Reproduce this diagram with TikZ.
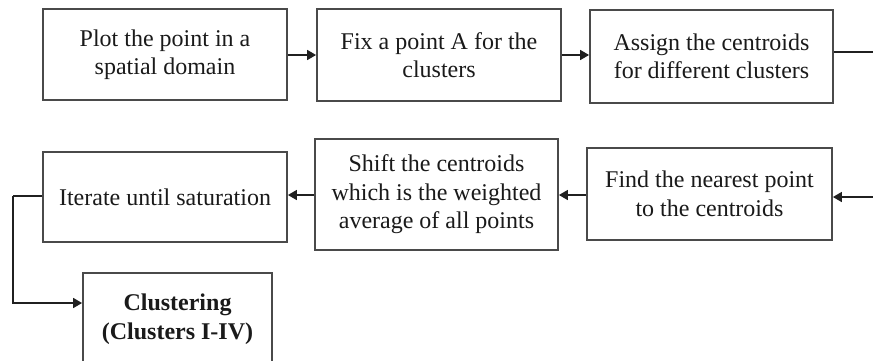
\documentclass[tikz,border=0pt]{standalone}
\usepackage{fontspec}
\setmainfont{Liberation Serif}
\usetikzlibrary{arrows.meta}
\definecolor{edge}{HTML}{4A4A4A}
\definecolor{wire}{HTML}{202020}
\definecolor{ink}{HTML}{1A1A1A}
\begin{document}
\begin{tikzpicture}[x=1pt,y=-1pt,
  stepbox/.style={draw=edge,line width=1.8pt,fill=white,text=ink,align=center,
    inner sep=0pt,font=\fontsize{24}{28.5}\selectfont},
  flow/.style={draw=wire,line width=1.6pt,-{Triangle[length=9pt,width=10pt]}},
  link/.style={draw=wire,line width=1.6pt}]
\useasboundingbox (0,0) rectangle (873,360);
\clip (0,0) rectangle (873,360);
\fill[white] (0,0) rectangle (873,360);

% first row
\node[stepbox,minimum width=244pt,minimum height=91pt] (plot) at (165,54.5)
  {Plot the point in a\\spatial domain};
\node[stepbox,minimum width=244pt,minimum height=92pt] (fix) at (439,55)
  {Fix a point A for the\\clusters};
\node[stepbox,minimum width=243pt,minimum height=93pt] (assign) at (711.5,56.5)
  {Assign the centroids\\for different clusters};

% second row
\node[stepbox,minimum width=245pt,minimum height=92pt] (near) at (709.5,194)
  {Find the nearest point\\to the centroids};
\node[stepbox,minimum width=243pt,minimum height=111pt] (shift) at (436.5,194.5)
  {Shift the centroids\\which is the weighted\\average of all points};
\node[stepbox,minimum width=244pt,minimum height=90pt] (iter) at (165,197)
  {Iterate until saturation};

% result
\node[stepbox,minimum width=189pt,minimum height=92pt,font=\fontsize{24}{28.5}\selectfont\bfseries]
  (clust) at (177.5,319) {Clustering\\(Clusters I-IV)};

% connectors
\coordinate (outR) at (873,52);
\coordinate (inR) at (873,197);
\coordinate (bendL) at (13,196);

\draw[flow] (plot.east |- 0,55) -- (fix.west |- 0,55);
\draw[flow] (fix.east |- 0,55) -- (assign.west |- 0,55);
\draw[link] (assign.east |- outR) -- (outR);
\draw[flow] (inR) -- (near.east |- inR);
\draw[flow] (near.west |- 0,195) -- (shift.east |- 0,195);
\draw[flow] (shift.west |- 0,195) -- (iter.east |- 0,195);
\draw[link] (iter.west |- bendL) -- (bendL);
\draw[flow] (bendL) |- (clust.west |- 0,303);
\end{tikzpicture}
\end{document}
